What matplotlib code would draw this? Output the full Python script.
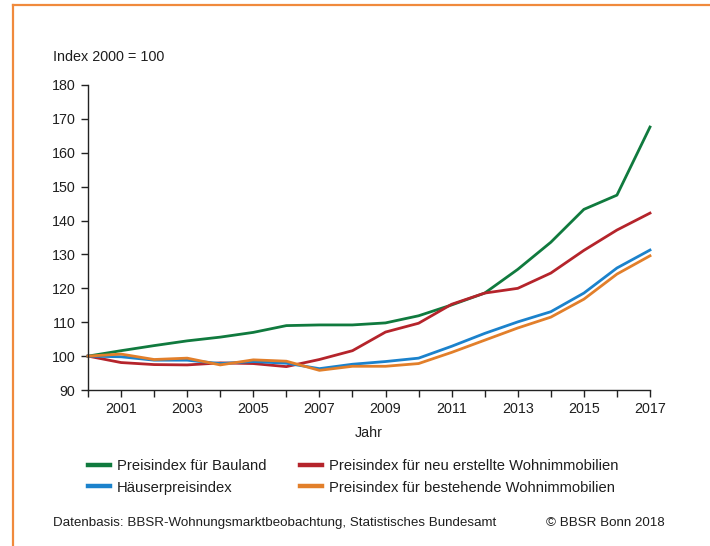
'''
Preisindizes für Bauland und Wohnimmobilien, 2000 bis 2017.
'''
import matplotlib
matplotlib.use('Agg')
import matplotlib.pyplot as plt
from matplotlib.lines import Line2D

plt.rcParams['font.family'] = ['Liberation Sans', 'DejaVu Sans']

years = list(range(2000, 2018))

# Index 2000 = 100
bauland = [100, 101.6, 103.1, 104.5, 105.6, 107.0, 109.0, 109.2, 109.2, 109.8,
           111.9, 115.1, 118.6, 125.6, 133.6, 143.3, 147.5, 167.6]
neubau = [100, 98.1, 97.5, 97.4, 98.0, 97.8, 96.9, 99.0, 101.6, 107.1,
          109.7, 115.3, 118.6, 120.0, 124.5, 131.2, 137.2, 142.2]
haeuser = [100, 99.8, 98.8, 98.8, 97.8, 98.4, 97.9, 96.3, 97.6, 98.4,
           99.4, 102.9, 106.7, 110.1, 113.1, 118.6, 126.0, 131.3]
bestand = [100, 100.6, 99.0, 99.4, 97.4, 98.9, 98.5, 95.8, 97.0, 97.0,
           97.8, 101.1, 104.7, 108.3, 111.5, 116.8, 124.2, 129.6]

labels = ['Preisindex für Bauland', 'Häuserpreisindex',
          'Preisindex für neu erstellte Wohnimmobilien',
          'Preisindex für bestehende Wohnimmobilien']
colors = ['#107a3e', '#1b82cc', '#b5242b', '#e27f2a']
series = [bauland, haeuser, neubau, bestand]

text_color = '#1e1e1e'

fig = plt.figure(figsize=(7.10, 5.46), dpi=100)
ax = fig.add_axes([88 / 710, 1 - 390 / 546, 562 / 710, 305 / 546])

# draw order: green, red, blue, orange on top
for i in [0, 2, 1, 3]:
    ax.plot(years, series[i], color=colors[i], linewidth=2.0,
            solid_joinstyle='round', clip_on=False)

ax.set_xlim(2000, 2017)
ax.set_ylim(90, 180)
ax.set_xticks(years)
ax.set_xticklabels([str(y) if y % 2 == 1 else '' for y in years])
ax.set_yticks(range(90, 181, 10))
ax.tick_params(axis='both', direction='out', length=5, width=1,
               color='#222222', labelsize=10.3, labelcolor=text_color)
ax.tick_params(axis='x', pad=3.5)
ax.tick_params(axis='y', pad=4)
for side in ['top', 'right']:
    ax.spines[side].set_visible(False)
for side in ['left', 'bottom']:
    ax.spines[side].set_color('#222222')
    ax.spines[side].set_linewidth(1)

ax.set_xlabel('Jahr', fontsize=10.3, color=text_color, labelpad=7)

fig.text(53 / 710, 1 - 57 / 546, 'Index 2000 = 100', fontsize=10.4,
         color=text_color, va='center', ha='left')

# legend in two columns below the axis
handles = [Line2D([], [], color=c, linewidth=3.2) for c in colors]
fig.legend(handles, labels, ncol=2, frameon=False, fontsize=10.6,
           loc='upper left', bbox_to_anchor=(82 / 710, 1 - 453 / 546),
           handlelength=1.5, handletextpad=0.45, columnspacing=2.3,
           labelspacing=0.52, labelcolor=text_color, borderaxespad=0)

fig.text(53 / 710, 1 - 523 / 546,
         'Datenbasis: BBSR-Wohnungsmarktbeobachtung, Statistisches Bundesamt',
         fontsize=9.6, color=text_color, va='center', ha='left')
fig.text(665 / 710, 1 - 523 / 546, '© BBSR Bonn 2018', fontsize=9.6,
         color=text_color, va='center', ha='right')

# orange frame on top and left edge
frame = '#f08a3c'
fig.add_artist(Line2D([12.5 / 710, 1], [1 - 4.5 / 546, 1 - 4.5 / 546],
                      transform=fig.transFigure, color=frame, linewidth=1.6))
fig.add_artist(Line2D([12.5 / 710, 12.5 / 710], [0, 1 - 4.5 / 546],
                      transform=fig.transFigure, color=frame, linewidth=1.6))

fig.savefig('out.png', dpi=100)
